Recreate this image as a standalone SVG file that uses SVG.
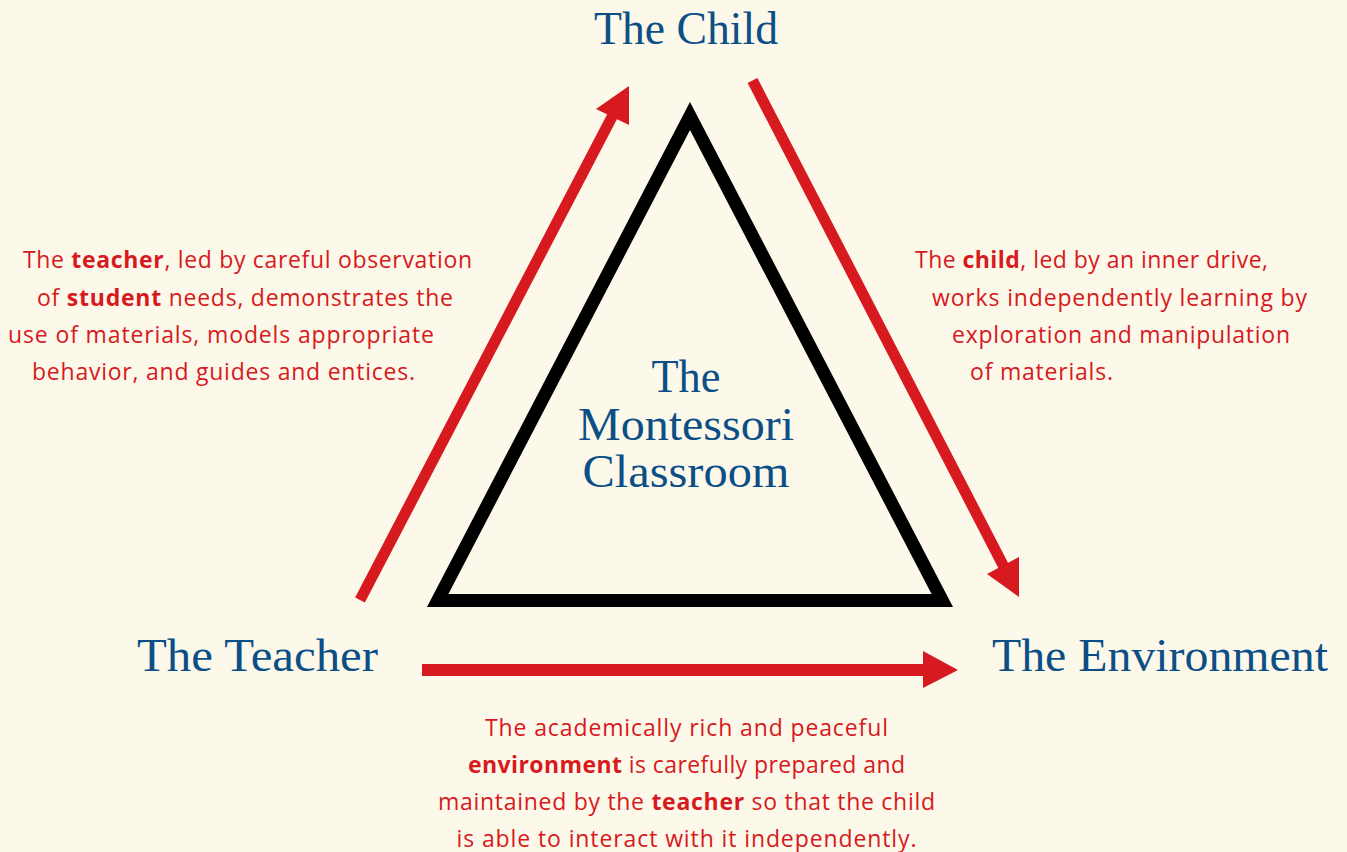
<svg xmlns="http://www.w3.org/2000/svg" width="1347" height="852" viewBox="0 0 1347 852">
<style>
.title{font-family:"Liberation Serif","Times New Roman",serif;font-size:46px;fill:#0b4f86}
.body{font-family:"Open Sans","Liberation Sans",sans-serif;font-size:23px;fill:#d71920}
.body tspan.b{font-weight:700}
.arrow{fill:#d71920}
</style>
<rect width="1347" height="852" fill="#fcf8ea"/>
<g id="classroom">
<polygon points="690,116 437.7,600.5 942.3,600.5" fill="none" stroke="#000" stroke-width="13" stroke-linejoin="miter" stroke-miterlimit="10"/>
<text class="title" x="686" y="392" text-anchor="middle" textLength="69" lengthAdjust="spacingAndGlyphs">The</text>
<text class="title" x="686" y="440" text-anchor="middle" textLength="216" lengthAdjust="spacingAndGlyphs">Montessori</text>
<text class="title" x="686" y="487" text-anchor="middle" textLength="207" lengthAdjust="spacingAndGlyphs">Classroom</text>
</g>
<g id="child">
<text class="title" x="594" y="44" textLength="184" lengthAdjust="spacingAndGlyphs">The Child</text>
</g>
<g id="teacher">
<text class="title" x="137" y="671" textLength="241" lengthAdjust="spacingAndGlyphs">The Teacher</text>
</g>
<g id="environment">
<text class="title" x="992" y="671" textLength="336" lengthAdjust="spacingAndGlyphs">The Environment</text>
</g>
<g id="connectors">
<g id="teacher-to-child">
<line x1="360" y1="600" x2="614" y2="113" stroke="#d71920" stroke-width="11"/>
<polygon class="arrow" points="629,86 596,109 629,125"/>
</g>
<g id="child-to-environment">
<line x1="752.5" y1="80.5" x2="1004" y2="567" stroke="#d71920" stroke-width="11"/>
<polygon class="arrow" points="1019,597 987,574 1019,557"/>
</g>
<g id="teacher-to-environment">
<line x1="422" y1="670" x2="925" y2="670" stroke="#d71920" stroke-width="12"/>
<polygon class="arrow" points="958,670 923,651 923,688"/>
</g>
</g>
<g id="teacher-note">
<text class="body" x="23" y="268" textLength="449">The <tspan class="b">teacher</tspan>, led by careful observation</text>
<text class="body" x="37" y="305.5" textLength="416">of <tspan class="b">student</tspan> needs, demonstrates the</text>
<text class="body" x="8" y="343" textLength="426">use of materials, models appropriate</text>
<text class="body" x="32" y="380" textLength="383">behavior, and guides and entices.</text>
</g>
<g id="child-note">
<text class="body" x="915" y="268" textLength="353">The <tspan class="b">child</tspan>, led by an inner drive,</text>
<text class="body" x="932" y="305.5" textLength="375">works independently learning by</text>
<text class="body" x="952" y="343" textLength="338">exploration and manipulation</text>
<text class="body" x="970" y="380" textLength="143">of materials.</text>
</g>
<g id="environment-note">
<text class="body" x="686.5" y="735.5" text-anchor="middle" textLength="403">The academically rich and peaceful</text>
<text class="body" x="686.5" y="773" text-anchor="middle" textLength="437"><tspan class="b">environment</tspan> is carefully prepared and</text>
<text class="body" x="686.5" y="810" text-anchor="middle" textLength="497">maintained by the <tspan class="b">teacher</tspan> so that the child</text>
<text class="body" x="686.5" y="847" text-anchor="middle" textLength="460">is able to interact with it independently.</text>
</g>
</svg>
